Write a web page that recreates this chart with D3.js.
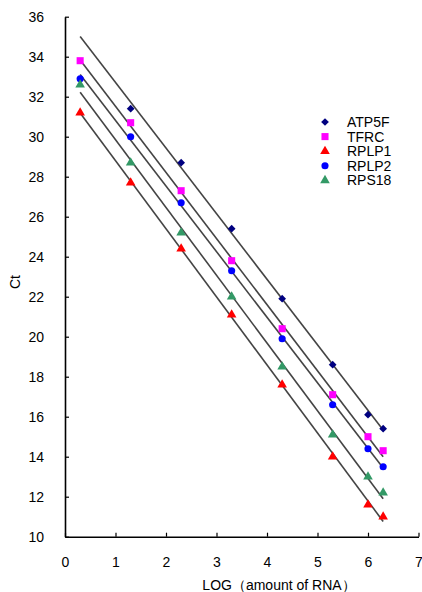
<!DOCTYPE html>
<html>
<head>
<meta charset="utf-8">
<script src="https://cdn.jsdelivr.net/npm/d3@7"></script>
<style>
body{margin:0;background:#fff;}
text{font-family:"Liberation Sans",Arial,sans-serif;fill:#000;}
</style>
</head>
<body>
<div id="chart"></div>
<script>
// x positions (log of RNA amount)
const logAmount=[0.3,1.3,2.3,3.3,4.3,5.3,6.0,6.3];

// Ct values, null = no point
const atp5f=[null,31.4,28.7,25.4,21.9,18.6,16.1,15.4];
const tfrc=[33.8,30.7,27.3,23.8,20.4,17.1,15.0,14.3];
const rplp1=[31.2,27.7,24.4,21.1,17.6,14.0,11.6,11.0];
const rplp2=[32.9,30.0,26.7,23.3,19.9,16.6,14.4,13.5];
const rps18=[32.6,28.7,25.2,22.0,18.5,15.1,13.0,12.2];

const seriesNames=['ATP5F','TFRC','RPLP1','RPLP2','RPS18'];
const xTicks=[0,1,2,3,4,5,6,7];
const yTicks=[10,12,14,16,18,20,22,24,26,28,30,32,34,36];

const series=[
    {name:'ATP5F',values:atp5f,color:'#000080',symbol:d3.symbolSquare,size:30,rot:45},
    {name:'TFRC',values:tfrc,color:'#ff00ff',symbol:d3.symbolSquare,size:50,rot:0},
    {name:'RPLP1',values:rplp1,color:'#ff0000',symbol:d3.symbolTriangle,size:40,rot:0},
    {name:'RPLP2',values:rplp2,color:'#0000ff',symbol:d3.symbolCircle,size:40,rot:0},
    {name:'RPS18',values:rps18,color:'#339966',symbol:d3.symbolTriangle,size:40,rot:0}
];

const width=422;
const height=592;

const xscale=d3.scaleLinear()
.domain([0,7])
.range([65,418.5]);

const yscale=d3.scaleLinear()
.domain([10,36])
.range([536.7,16.7]);

const svg=d3.select('#chart')
.append('svg')
.attr('width',width)
.attr('height',height);

// points of each series
series.forEach(function(s){
    s.points=logAmount.map(function(x,i){
        return {x:x,y:s.values[i]};
    }).filter(function(p){
        return p.y!==null;
    });
    // least squares trend line
    const mx=d3.mean(s.points,function(p){return p.x;});
    const my=d3.mean(s.points,function(p){return p.y;});
    const sxy=d3.sum(s.points,function(p){return (p.x-mx)*(p.y-my);});
    const sxx=d3.sum(s.points,function(p){return (p.x-mx)*(p.x-mx);});
    s.slope=sxy/sxx;
    s.intercept=my-s.slope*mx;
});

const x0=d3.min(logAmount);
const x1=d3.max(logAmount);

svg.selectAll('.trend')
.data(series)
.enter()
.append('line')
.attr('class','trend')
.attr('x1',function(d){return xscale(x0);})
.attr('x2',function(d){return xscale(x1);})
.attr('y1',function(d){return yscale(d.intercept+d.slope*x0);})
.attr('y2',function(d){return yscale(d.intercept+d.slope*x1);})
.attr('stroke','#444')
.attr('stroke-width',1.6);

// axes
const yaxis=svg.append('g')
.attr('transform','translate(65,0)')
.call(d3.axisLeft(yscale).tickValues(yTicks).tickFormat(d3.format('d')).tickSizeInner(-4).tickSizeOuter(0).tickPadding(21));

const xaxis=svg.append('g')
.attr('transform','translate(0,536.7)')
.call(d3.axisBottom(xscale).tickValues(xTicks).tickFormat(d3.format('d')).tickSizeInner(-4).tickSizeOuter(0).tickPadding(20));

svg.selectAll('.domain').attr('stroke','#000').attr('stroke-width',1.6);
svg.selectAll('.tick line').attr('stroke','#000').attr('stroke-width',1.2);
svg.selectAll('.tick text').attr('font-size',14).attr('font-family','Liberation Sans, Arial, sans-serif').attr('fill','#000');

// markers
series.forEach(function(s){
    svg.selectAll('.pt-'+s.name)
    .data(s.points)
    .enter()
    .append('path')
    .attr('d',d3.symbol().type(s.symbol).size(s.size))
    .attr('transform',function(d){
        return `translate(${xscale(d.x)},${yscale(d.y)}) rotate(${s.rot})`;
    })
    .attr('fill',s.color);
});

// axis titles
svg.append('text')
.attr('transform','translate(20,282) rotate(-90)')
.attr('text-anchor','middle')
.attr('font-size',14)
.text('Ct');

svg.append('text')
.attr('x',279)
.attr('y',590)
.attr('text-anchor','middle')
.attr('font-size',14)
.text('LOG（amount of RNA）');

// legend
const legend=svg.selectAll('.legend')
.data(series)
.enter()
.append('g')
.attr('class','legend')
.attr('transform',function(d,i){
    return `translate(325,${122+i*14.6})`;
});

legend.append('path')
.attr('d',function(d){return d3.symbol().type(d.symbol).size(d.size)();})
.attr('transform',function(d){return `rotate(${d.rot})`;})
.attr('fill',function(d){return d.color;});

legend.append('text')
.attr('x',22)
.attr('y',5)
.attr('font-size',14)
.text(function(d,i){return seriesNames[i];});
</script>
</body>
</html>
